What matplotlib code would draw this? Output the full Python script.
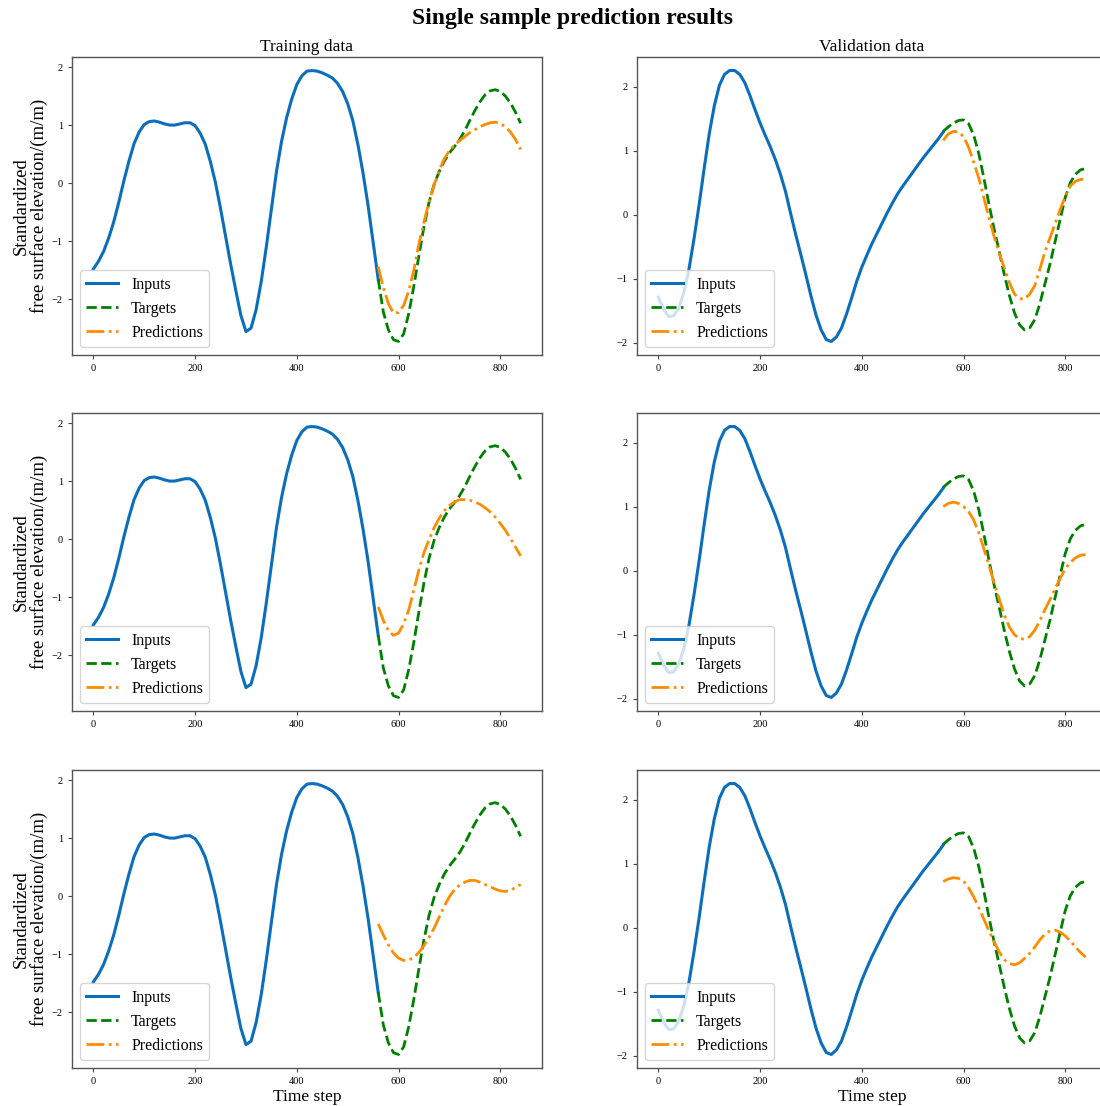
import numpy as np
import matplotlib
matplotlib.use("Agg")
import matplotlib.pyplot as plt

plt.rcParams['font.family'] = ['Liberation Serif', 'DejaVu Serif']
plt.rcParams['mathtext.fontset'] = 'stix'

# ---- time axes ----
t_in = np.arange(0, 561, 10)
t_out = np.arange(560, 841, 10)

# ---- training sample ----
train_inputs = [
    -1.48, -1.35, -1.18, -0.95, -0.67, -0.33, 0.04, 0.38, 0.68, 0.88,
    1.01, 1.06, 1.07, 1.05, 1.02, 1.00, 1.00, 1.02, 1.04, 1.04,
    0.99, 0.86, 0.67, 0.37, 0.01, -0.44, -0.92, -1.40, -1.85, -2.28,
    -2.56, -2.50, -2.18, -1.70, -1.10, -0.45, 0.20, 0.72, 1.13, 1.45,
    1.70, 1.85, 1.93, 1.94, 1.93, 1.90, 1.86, 1.81, 1.72, 1.58,
    1.37, 1.08, 0.67, 0.18, -0.38, -1.02, -1.66,
]
train_targets = [
    -1.66, -2.22, -2.53, -2.70, -2.73, -2.60, -2.25, -1.78, -1.25, -0.75,
    -0.33, -0.02, 0.20, 0.38, 0.52, 0.63, 0.75, 0.90, 1.08, 1.25,
    1.40, 1.52, 1.59, 1.61, 1.58, 1.50, 1.38, 1.22, 1.03,
]
train_preds = [
    [-1.44, -1.80, -2.08, -2.24, -2.23, -2.11, -1.86, -1.50, -1.05, -0.67,
     -0.32, -0.03, 0.22, 0.42, 0.56, 0.66, 0.73, 0.80, 0.87, 0.92,
     0.97, 1.01, 1.04, 1.05, 1.03, 0.97, 0.88, 0.75, 0.58],
    [-1.17, -1.40, -1.58, -1.66, -1.62, -1.46, -1.22, -0.88, -0.53, -0.23,
     -0.01, 0.20, 0.36, 0.49, 0.58, 0.64, 0.68, 0.68, 0.67, 0.64,
     0.60, 0.54, 0.47, 0.38, 0.27, 0.15, 0.01, -0.14, -0.29],
    [-0.48, -0.67, -0.84, -0.98, -1.07, -1.11, -1.10, -1.06, -0.97, -0.85,
     -0.71, -0.55, -0.36, -0.17, -0.01, 0.11, 0.19, 0.24, 0.27, 0.27,
     0.24, 0.20, 0.16, 0.12, 0.09, 0.08, 0.10, 0.15, 0.20],
]

# ---- validation sample ----
val_inputs = [
    -1.29, -1.47, -1.59, -1.58, -1.46, -1.22, -0.86, -0.38, 0.15, 0.72,
    1.26, 1.70, 2.02, 2.19, 2.25, 2.25, 2.19, 2.06, 1.86, 1.64,
    1.43, 1.24, 1.06, 0.86, 0.63, 0.36, 0.02, -0.31, -0.62, -0.94,
    -1.27, -1.57, -1.80, -1.95, -1.98, -1.91, -1.77, -1.55, -1.30, -1.04,
    -0.82, -0.63, -0.45, -0.29, -0.13, 0.03, 0.18, 0.32, 0.44, 0.55,
    0.66, 0.77, 0.88, 0.98, 1.08, 1.18, 1.29,
]
val_targets = [
    1.30, 1.37, 1.43, 1.47, 1.48, 1.42, 1.24, 0.95, 0.57, 0.16,
    -0.22, -0.57, -0.93, -1.26, -1.53, -1.72, -1.80, -1.77, -1.64, -1.39,
    -1.08, -0.77, -0.42, -0.07, 0.27, 0.50, 0.63, 0.70, 0.72,
]
val_preds = [
    [1.16, 1.26, 1.30, 1.29, 1.22, 1.05, 0.82, 0.57, 0.26, -0.05,
     -0.34, -0.60, -0.83, -1.06, -1.24, -1.31, -1.32, -1.24, -1.11, -0.85,
     -0.58, -0.36, -0.14, 0.08, 0.29, 0.45, 0.52, 0.55, 0.56],
    [1.00, 1.05, 1.07, 1.05, 1.00, 0.92, 0.79, 0.59, 0.34, 0.08,
     -0.19, -0.44, -0.69, -0.88, -1.00, -1.06, -1.07, -1.03, -0.93, -0.78,
     -0.61, -0.45, -0.28, -0.12, 0.03, 0.13, 0.20, 0.24, 0.25],
    [0.72, 0.76, 0.78, 0.77, 0.73, 0.62, 0.48, 0.31, 0.13, -0.05,
     -0.22, -0.38, -0.50, -0.56, -0.58, -0.55, -0.48, -0.40, -0.30, -0.19,
     -0.10, -0.05, -0.04, -0.07, -0.13, -0.21, -0.30, -0.39, -0.46],
]

x_ticks = [0, 200, 400, 600, 800]
y_ticks = [-2, -1, 0, 1, 2]
col_titles = ["Training data", "Validation data"]
series_names = ["Inputs", "Targets", "Predictions"]

C_IN = '#0a6ebd'
C_TG = '#008000'
C_PR = '#ff8c00'

fig = plt.figure(figsize=(11.0, 11.06), dpi=100)

W, H = 1100.0, 1106.0
col_left = [72, 637]
row_top = [57, 413, 770]
ax_w, ax_h = 470, 298

samples = [(train_inputs, train_targets, train_preds),
           (val_inputs, val_targets, val_preds)]

for c in range(2):
    inputs, targets, preds = samples[c]
    for r in range(3):
        ax = fig.add_axes([col_left[c] / W, 1 - (row_top[r] + ax_h) / H,
                           ax_w / W, ax_h / H])
        ax.plot(t_in, inputs, color=C_IN, lw=2.2, label=series_names[0])
        ax.plot(t_out, targets, color=C_TG, lw=2.0, ls='--', label=series_names[1])
        ax.plot(t_out, preds[r], color=C_PR, lw=2.0, ls='-.', label=series_names[2])
        ax.set_xticks(x_ticks)
        ax.set_yticks(y_ticks)
        ax.tick_params(labelsize=7.5, length=3, width=0.8, color='#444444')
        for s in ax.spines.values():
            s.set_color('#555555')
            s.set_linewidth(1.0)
        ax.legend(loc='lower left', fontsize=11.5, handlelength=2.0,
                  borderaxespad=0.5)
        if r == 0:
            ax.set_title(col_titles[c], fontsize=12.5, pad=4)
        if r == 2:
            ax.set_xlabel("Time step", fontsize=12.5, labelpad=2)
        if c == 0:
            ax.set_ylabel("Standardized\nfree surface elevation/(m/m)",
                          fontsize=13.5, labelpad=3, linespacing=1.0)

fig.text(0.5205, 0.983, "Single sample prediction results", ha='center',
         va='center', fontsize=17, fontweight='bold')

fig.savefig("out.png", dpi=100)
